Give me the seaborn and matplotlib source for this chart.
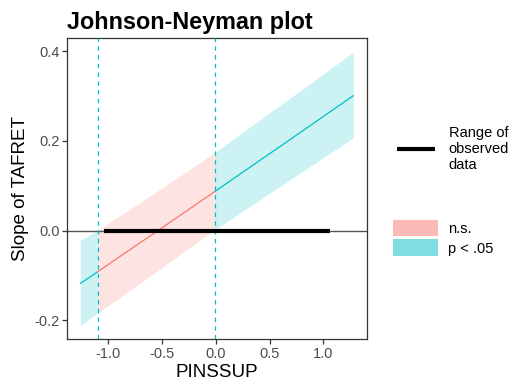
import matplotlib
matplotlib.use("Agg")
import matplotlib.pyplot as plt
import seaborn as sns
import pandas as pd
import numpy as np
from matplotlib.lines import Line2D
from matplotlib.patches import Patch

# ---- data ----
moderator = [-1.26, -1.10, -0.52, -0.01, 0.60, 1.28]      # PINSSUP
slope_est = [-0.118, -0.092, 0.003, 0.087, 0.188, 0.301]  # slope of TAFRET
ci_lower = [-0.212, -0.184, -0.086, 0.002, 0.099, 0.207]
ci_upper = [-0.021, 0.000, 0.092, 0.174, 0.280, 0.398]
jn_bounds = [-1.10, -0.01]
observed_range = [-1.04, 1.06]
sig_labels = ["n.s.", "p < .05"]
x_ticks = [-1.0, -0.5, 0.0, 0.5, 1.0]
y_ticks = [-0.2, 0.0, 0.2, 0.4]

RED = "#F8766D"
CYAN = "#00BFC4"
palette = {"n.s.": RED, "p < .05": CYAN}

# segments: below lower JN bound, between bounds, above upper bound
regions = [(-np.inf, jn_bounds[0], "p < .05"),
           (jn_bounds[0], jn_bounds[1], "n.s."),
           (jn_bounds[1], np.inf, "p < .05")]
rows = []
for seg, (lo, hi, sig) in enumerate(regions):
    for x, y, l, u in zip(moderator, slope_est, ci_lower, ci_upper):
        if lo - 1e-9 <= x <= hi + 1e-9:
            rows.append(dict(x=x, y=y, lo=l, hi=u, seg=seg, sig=sig))
df = pd.DataFrame(rows)

sns.set_theme(style="ticks")
plt.rcParams["font.family"] = ["Liberation Sans", "DejaVu Sans"]
plt.rcParams["text.color"] = "black"
plt.rcParams["axes.labelcolor"] = "black"

fig = plt.figure(figsize=(5.1, 3.9), dpi=100)
ax = fig.add_axes([0.132, 0.130, 0.587, 0.7733])

# confidence bands
for seg, d in df.groupby("seg"):
    ax.fill_between(d["x"], d["lo"], d["hi"], color=palette[d["sig"].iloc[0]],
                    alpha=0.2, linewidth=0, zorder=1)

# zero line
ax.axhline(0, color="#555555", linewidth=1.0, zorder=2)

# slope line
sns.lineplot(data=df, x="x", y="y", hue="sig", units="seg", estimator=None,
             palette=palette, linewidth=0.9, legend=False, ax=ax, zorder=3)

# JN bounds
for b in jn_bounds:
    ax.axvline(b, color=CYAN, linewidth=0.9, linestyle=(0, (3.5, 3.5)), zorder=3)

# range of observed data
ax.plot(observed_range, [0, 0], color="black", linewidth=3.0,
        solid_capstyle="butt", zorder=4)

ax.set_xlim(-1.381, 1.404)
ax.set_ylim(-0.2425, 0.4303)
ax.set_xticks(x_ticks)
ax.set_xticklabels([f"{t:.1f}" for t in x_ticks])
ax.set_yticks(y_ticks)
ax.set_yticklabels([f"{t:.1f}" for t in y_ticks])

for s in ax.spines.values():
    s.set_visible(True)
    s.set_color("#333333")
    s.set_linewidth(0.9)
ax.tick_params(axis="both", direction="out", length=3.5, width=0.9,
               color="#333333", labelcolor="#4D4D4D", labelsize=10.5, pad=2)

ax.set_xlabel("PINSSUP", fontsize=13.5, color="black", labelpad=2)
ax.set_ylabel("Slope of TAFRET", fontsize=13.5, color="black", labelpad=4)
ax.set_title("Johnson-Neyman plot", fontsize=16.8, fontweight="bold",
             loc="left", pad=6, color="black")

# legends
h1 = [Line2D([0], [0], color="black", linewidth=3.0, solid_capstyle="butt")]
leg1 = fig.legend(h1, ["Range of\nobserved\ndata"], loc="center left",
                  bbox_to_anchor=(0.778, 0.618), frameon=False, fontsize=10.5,
                  handlelength=2.6, handletextpad=0.95, borderpad=0,
                  borderaxespad=0)
h2 = [Patch(facecolor=RED, alpha=0.5, edgecolor="none"),
      Patch(facecolor=CYAN, alpha=0.5, edgecolor="none")]
leg2 = fig.legend(h2, sig_labels, loc="center left",
                  bbox_to_anchor=(0.770, 0.39), frameon=False, fontsize=10.5,
                  handlelength=3.1, handleheight=1.4, labelspacing=0.2,
                  handletextpad=0.7, borderpad=0, borderaxespad=0)

fig.savefig("out.png", dpi=100)
